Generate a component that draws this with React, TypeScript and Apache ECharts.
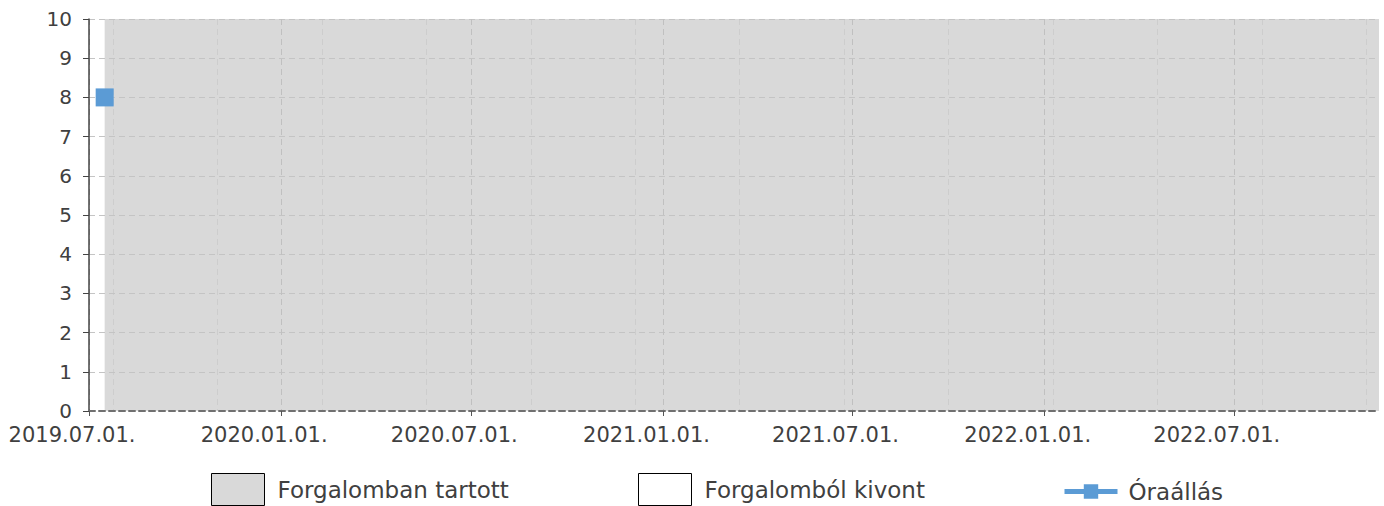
import React, { useEffect, useRef } from "react";
import * as echarts from "echarts";

const DAY = 86400000;
const axisStart = Date.UTC(2019, 6, 1);
const axisEnd = Date.UTC(2022, 10, 17);
const majorTicks = [
  Date.UTC(2019, 6, 1),
  Date.UTC(2020, 0, 1),
  Date.UTC(2020, 6, 1),
  Date.UTC(2021, 0, 1),
  Date.UTC(2021, 6, 1),
  Date.UTC(2022, 0, 1),
  Date.UTC(2022, 6, 1),
];
const minorIntervalDays = 100;

const inServiceData: [number, number][] = [
  [Date.UTC(2019, 6, 16), 10],
  [Date.UTC(2022, 10, 17), 10],
];
const withdrawnData: [number, number][] = [];
const odometerData: [number, number][] = [[Date.UTC(2019, 6, 16), 8]];

const seriesNames = ["Forgalomban tartott", "Forgalomból kivont", "Óraállás"];

const FONT = "DejaVu Sans";
const TEXT = "#404040";

function fmt(v: number) {
  const d = new Date(v);
  const mm = String(d.getUTCMonth() + 1).padStart(2, "0");
  const dd = String(d.getUTCDate()).padStart(2, "0");
  return `${d.getUTCFullYear()}.${mm}.${dd}.`;
}

// minor grid lines: every 100 days, aligned to whole multiples of 100 days
function minorTicks(): number[] {
  const step = minorIntervalDays * DAY;
  const out: number[] = [];
  for (let t = Math.ceil(axisStart / step) * step + DAY; t < axisEnd; t += step) out.push(t);
  return out;
}

export default function App() {
  const ref = useRef<HTMLDivElement>(null);
  useEffect(() => {
    if (!ref.current) return;
    const chart = echarts.init(ref.current, undefined, { renderer: "svg" });
    const legendBase = {
      orient: "horizontal",
      padding: 0,
      itemWidth: 53,
      itemHeight: 32,
      textStyle: { fontFamily: FONT, fontSize: 23, color: TEXT, padding: [3, 0, 0, 8] },
      selectedMode: false,
    };
    const minors = minorTicks();
    chart.setOption({
      animation: false,
      useUTC: true,
      grid: { left: 89, right: 5, top: 19, bottom: 95, containLabel: false },
      legend: [
        {
          ...legendBase,
          left: 211,
          top: 473,
          data: [{ name: seriesNames[0], icon: "rect", itemStyle: { color: "#d9d9d9", borderColor: "#000", borderWidth: 1 } }],
        },
        {
          ...legendBase,
          left: 638,
          top: 473,
          data: [{ name: seriesNames[1], icon: "rect", itemStyle: { color: "#ffffff", borderColor: "#000", borderWidth: 1 } }],
        },
        {
          ...legendBase,
          left: 1062,
          top: 480,
          itemHeight: 18,
          lineStyle: { width: 5 },
          textStyle: { ...legendBase.textStyle, padding: [3, 0, 0, 6] },
          data: [{ name: seriesNames[2] }],
        },
      ],
      xAxis: [
        {
          type: "value",
          min: axisStart,
          max: axisEnd,
          z: 3,
          axisLine: { show: true, onZero: false, lineStyle: { color: "#707070", width: 2, type: [6, 4] } },
          axisTick: { show: true, length: 5, customValues: majorTicks, lineStyle: { color: "#555" } },
          axisLabel: {
            customValues: majorTicks,
            formatter: (v: number) => fmt(v),
            fontFamily: FONT,
            fontSize: 21,
            color: TEXT,
            margin: 13,
            padding: [0, 34, 0, 0],
            showMinLabel: true,
            showMaxLabel: true,
          },
          splitLine: { show: true, lineStyle: { color: "#c0c0c0", width: 1, type: [6, 4] } },
        },
        {
          type: "value",
          min: axisStart,
          max: axisEnd,
          position: "bottom",
          z: 2,
          axisLine: { show: false },
          axisTick: { show: false, customValues: minors },
          axisLabel: { show: false, customValues: minors },
          splitLine: { show: true, lineStyle: { color: "#cdcdcd", width: 1, type: [6, 4] } },
        },
      ],
      yAxis: {
        type: "value",
        min: 0,
        max: 10,
        interval: 1,
        z: 3,
        axisLine: { show: true, lineStyle: { color: "#444", width: 1.5 } },
        axisTick: { show: true, length: 6, lineStyle: { color: "#444" } },
        axisLabel: { fontFamily: FONT, fontSize: 20, color: TEXT, margin: 17 },
        splitLine: { show: true, lineStyle: { color: "#c4c4c4", width: 1, type: [6, 4] } },
      },
      series: [
        {
          name: seriesNames[0],
          type: "line",
          xAxisIndex: 0,
          data: inServiceData,
          symbol: "none",
          z: 1,
          color: "#d9d9d9",
          lineStyle: { width: 0 },
          areaStyle: { color: "#d9d9d9", opacity: 1 },
          silent: true,
        },
        {
          name: seriesNames[1],
          type: "line",
          xAxisIndex: 0,
          data: withdrawnData,
          symbol: "none",
          color: "#ffffff",
          z: 1,
        },
        {
          name: seriesNames[2],
          type: "line",
          xAxisIndex: 0,
          data: odometerData,
          symbol: "rect",
          symbolSize: 18,
          color: "#5b9bd5",
          lineStyle: { width: 5, color: "#5b9bd5" },
          itemStyle: { color: "#5b9bd5" },
          z: 10,
        },
      ],
    });
    return () => chart.dispose();
  }, []);
  return <div ref={ref} style={{ width: 1384, height: 506, position: "absolute", left: 0, top: 0 }} />;
}
